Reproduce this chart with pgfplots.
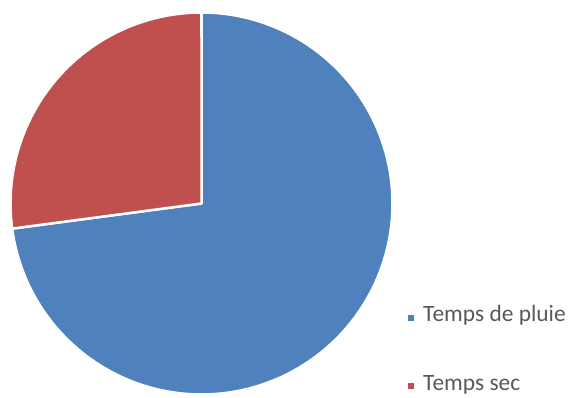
\documentclass[border=0pt]{standalone}
\usepackage{pgfplots}
\usepackage{pgfplotstable}
\usepackage{fontspec}
\setmainfont{Carlito}
\pgfplotsset{compat=1.18}
\definecolor{pieblue}{HTML}{4F81BD}
\definecolor{piered}{HTML}{C0504D}
\definecolor{legtext}{HTML}{595959}
\pgfplotstableread{
label value
pluie 72.9
sec 27.1
}\piedata
\pgfplotstablegetelem{0}{value}\of\piedata
\let\vpluie\pgfplotsretval
\pgfplotstablegetelem{1}{value}\of\piedata
\let\vsec\pgfplotsretval
\pgfmathsetmacro{\aEnd}{90-3.6*\vpluie}
\pgfmathsetmacro{\aRedEnd}{\aEnd-3.6*\vsec}
\begin{document}
\begin{tikzpicture}
\begin{axis}[
  width=576bp, height=398bp, scale only axis,
  xmin=0, xmax=576, ymin=0, ymax=398,
  hide axis, clip=false, enlargelimits=false,
]
\path (rel axis cs:0,0) rectangle (rel axis cs:1,1);
% Temps de pluie
\addplot[fill=pieblue, draw=white, line width=2.5bp, line join=round, domain=90:\aEnd, samples=150, variable=\t]
  ({201.5+191*cos(\t)},{194.5+191*sin(\t)}) -- (axis cs:201.5,194.5) -- cycle;
% Temps sec
\addplot[fill=piered, draw=white, line width=2.5bp, line join=round, domain=\aEnd:\aRedEnd, samples=80, variable=\t]
  ({201.5+191*cos(\t)},{194.5+191*sin(\t)}) -- (axis cs:201.5,194.5) -- cycle;
% legend
\fill[pieblue] (axis cs:408,77) rectangle (axis cs:414,83);
\node[anchor=base west, font=\fontsize{23.5}{28}\selectfont, text=legtext, inner sep=0pt] at (axis cs:423,76) {Temps de pluie};
\fill[piered] (axis cs:408,9) rectangle (axis cs:414,15);
\node[anchor=base west, font=\fontsize{23.5}{28}\selectfont, text=legtext, inner sep=0pt] at (axis cs:423,8) {Temps sec};
\end{axis}
\end{tikzpicture}
\end{document}
